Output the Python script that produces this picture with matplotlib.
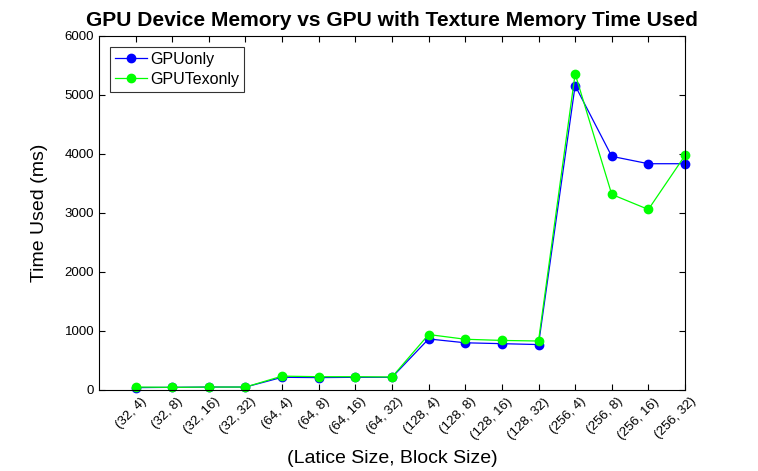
import matplotlib
matplotlib.use("Agg")
import matplotlib.pyplot as plt
import matplotlib.transforms as mtransforms

plt.rcParams['font.family'] = ['Liberation Sans', 'DejaVu Sans']

labels = ['(32, 4)', '(32, 8)', '(32, 16)', '(32, 32)',
          '(64, 4)', '(64, 8)', '(64, 16)', '(64, 32)',
          '(128, 4)', '(128, 8)', '(128, 16)', '(128, 32)',
          '(256, 4)', '(256, 8)', '(256, 16)', '(256, 32)']
gpu_only = [40, 45, 50, 50, 215, 210, 215, 215,
            865, 800, 785, 770, 5160, 3960, 3835, 3835]
gpu_tex = [50, 45, 50, 50, 235, 225, 225, 220,
           940, 860, 840, 830, 5360, 3315, 3060, 3975]
idx = list(range(1, len(labels) + 1))

fig = plt.figure(figsize=(7.58, 4.71), dpi=100)
ax = fig.add_axes([0.1306, 0.172, 0.7731, 0.7516])

ax.plot(idx, gpu_only, '-o', color=(0, 0, 1), lw=0.9, ms=6, label='GPUonly', clip_on=False)
ax.plot(idx, gpu_tex, '-o', color=(0, 1, 0), lw=0.9, ms=6, label='GPUTexonly', clip_on=False)

ax.set_xlim(0, 16)
ax.set_ylim(0, 6000)
ax.set_xticks(idx)
ax.set_yticks(range(0, 6001, 1000))
ax.tick_params(axis='both', direction='in', top=True, right=True, length=4, labelsize=9.5)
ax.tick_params(axis='x', pad=7)
ax.set_xticklabels(labels, rotation=45, fontsize=9.5, ha='right', va='center',
                   rotation_mode='anchor')
# matlab puts the rotated labels a bit right of the tick
shift = mtransforms.ScaledTranslation(0.09, 0, fig.dpi_scale_trans)
for tk in ax.xaxis.get_major_ticks():
    tk.label1.set_transform(tk.label1.get_transform() + shift)

ax.set_title('GPU Device Memory vs GPU with Texture Memory Time Used',
             fontsize=15.1, fontweight='bold', pad=7)
ax.set_xlabel('(Latice Size, Block Size)', fontsize=14, labelpad=6)
ax.set_ylabel('Time Used (ms)', fontsize=14, labelpad=12)

leg = ax.legend(loc='upper left', fontsize=11.5, fancybox=False, edgecolor='black',
                handlelength=2.0, handletextpad=0.2, borderpad=0.3, labelspacing=0.3,
                borderaxespad=0.7)
leg.get_frame().set_linewidth(0.8)

fig.savefig('out.png', dpi=100)
